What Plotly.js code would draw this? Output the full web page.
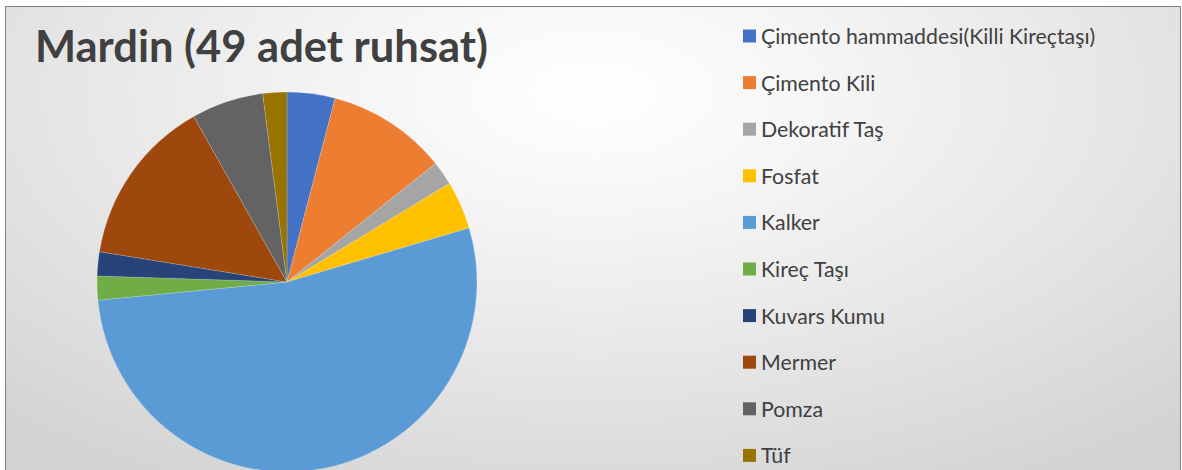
<!DOCTYPE html>
<html>
<head>
<meta charset="utf-8">
<script src="https://cdn.plot.ly/plotly-3.0.1.min.js"></script>
<style>
  html, body { margin:0; padding:0; background:#ffffff; overflow:hidden; width:1182px; height:470px; }
  #frame { position:absolute; left:5px; top:6px; width:1174px; height:480px;
    border-left:1.5px solid #7f7f7f; border-top:1.5px solid #7f7f7f; border-right:1.5px solid #7f7f7f;
    background: radial-gradient(ellipse 75% 95% at 50% 18%, #ffffff 0%, #f6f6f6 25%, #e6e6e6 60%, #d2d2d2 100%); }
  #chart { position:absolute; left:0; top:0; width:1182px; height:480px; }
</style>
</head>
<body>
<div id="frame"></div>
<div id="chart"></div>
<script>
const categories = ["Çimento hammaddesi(Killi Kireçtaşı)", "Çimento Kili", "Dekoratif Taş", "Fosfat", "Kalker", "Kireç Taşı", "Kuvars Kumu", "Mermer", "Pomza", "Tüf"];
const counts = [2, 5, 1, 2, 26, 1, 1, 7, 3, 1];
const colors = ["#4472C4", "#ED7D31", "#A5A5A5", "#FFC000", "#5B9BD5", "#70AD47", "#264478", "#9E480E", "#636363", "#997300"];
const titleText = "Mardin (49 adet ruhsat)";

const W = 1182, H = 480;
const cx = 287, cy = 282, r = 190;

const pie = {
  type: 'pie',
  labels: categories,
  values: counts,
  sort: false,
  direction: 'clockwise',
  rotation: 0,
  textinfo: 'none',
  hoverinfo: 'label+value+percent',
  showlegend: false,
  marker: { colors: colors, line: { color: 'rgba(255,255,255,0.35)', width: 0.5 } },
  domain: { x: [(cx - r) / W, (cx + r) / W], y: [(H - (cy + r)) / H, (H - (cy - r)) / H] }
};

const legX = 743, legY0 = 36, legStep = 46.6, sq = 13;
const shapes = [], annotations = [];
categories.forEach((c, i) => {
  const yc = legY0 + i * legStep;
  shapes.push({ type: 'rect', xref: 'paper', yref: 'paper',
    x0: legX / W, x1: (legX + sq) / W, y0: 1 - (yc + sq / 2) / H, y1: 1 - (yc - sq / 2) / H,
    fillcolor: colors[i], line: { width: 0 } });
  annotations.push({ xref: 'paper', yref: 'paper', x: 759 / W, y: 1 - yc / H,
    xanchor: 'left', yanchor: 'middle', showarrow: false, text: c,
    font: { family: 'Lato, "Liberation Sans", sans-serif', size: 21.3, color: '#404040' } });
});

const layout = {
  width: W, height: H,
  margin: { l: 0, r: 0, t: 0, b: 0 },
  paper_bgcolor: 'rgba(0,0,0,0)',
  plot_bgcolor: 'rgba(0,0,0,0)',
  title: { text: '<b>' + titleText + '</b>', x: 35 / W, xanchor: 'left', y: 1 - 47 / H, yanchor: 'middle',
    font: { family: 'Lato, "Liberation Sans", sans-serif', size: 43.5, color: '#404040' } },
  showlegend: false,
  shapes: shapes,
  annotations: annotations
};

Plotly.newPlot('chart', [pie], layout, { displayModeBar: false, staticPlot: false });
</script>
</body>
</html>
